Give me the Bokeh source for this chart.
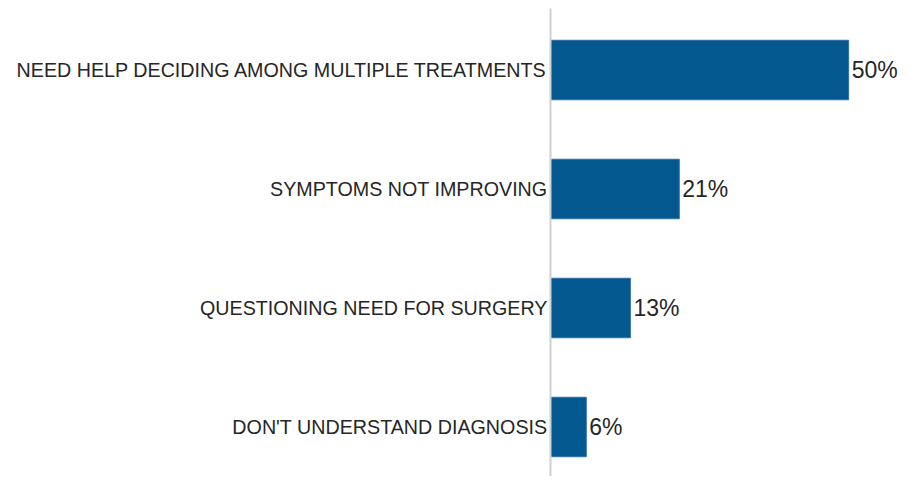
from bokeh.plotting import figure
from bokeh.models import ColumnDataSource, FixedTicker, Range1d, LinearAxis
from bokeh.core.properties import value
from bokeh.embed import file_html
from bokeh.resources import INLINE

categories = [
    "NEED HELP DECIDING AMONG MULTIPLE TREATMENTS",
    "SYMPTOMS NOT IMPROVING",
    "QUESTIONING NEED FOR SURGERY",
    "DON'T UNDERSTAND DIAGNOSIS",
]
values = [50.0, 21.6, 13.4, 6.0]
value_labels = ["50%", "21%", "13%", "6%"]

n = len(categories)
ypos = [n - 1 - i for i in range(n)]

src = ColumnDataSource(dict(y=ypos, v=values, lab=value_labels, cat=categories))

p = figure(width=900, height=476, output_backend="svg", toolbar_location=None,
           x_range=Range1d(0, 58.7), y_range=Range1d(-0.416, 3.517),
           min_border_left=550, min_border_right=0, min_border_top=8, min_border_bottom=0,
           y_axis_location=None, x_axis_location=None)

p.hbar(y="y", left=0, right="v", height=0.5, source=src,
       fill_color="#03588F", line_color="#2f6fa8", line_width=1)

p.text(x="v", y="y", text="lab", source=src, x_offset=3,
       text_font=value("Liberation Sans"), text_font_size="23px",
       text_baseline="middle", text_align="left", text_color="#262626")

yax = LinearAxis(ticker=FixedTicker(ticks=ypos),
                 major_label_overrides={y: c for y, c in zip(ypos, categories)})
yax.axis_line_color = "#d0d0d0"
yax.axis_line_width = 2
yax.major_tick_line_color = None
yax.minor_tick_line_color = None
yax.major_tick_out = 0
yax.major_tick_in = 0
yax.major_label_standoff = 3
yax.major_label_text_font = "Liberation Sans"
yax.major_label_text_font_size = "19.7px"
yax.major_label_text_color = "#262626"
p.add_layout(yax, "left")

p.xgrid.visible = False
p.ygrid.visible = False
p.outline_line_color = None
p.background_fill_color = "white"
p.border_fill_color = "white"

open("out.html", "w").write(file_html(p, INLINE))
